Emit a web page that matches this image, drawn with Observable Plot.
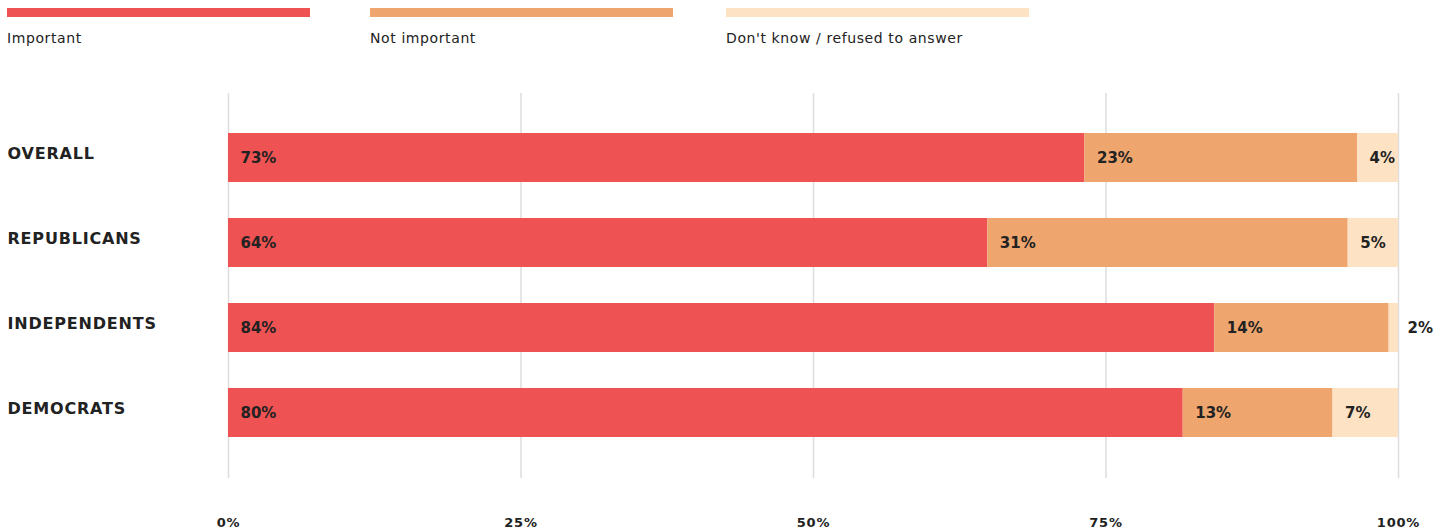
<!DOCTYPE html>
<html>
<head>
<meta charset="utf-8">
<script src="https://cdn.jsdelivr.net/npm/d3@7"></script>
<script src="https://cdn.jsdelivr.net/npm/@observablehq/plot@0.6"></script>
<style>
  html, body { margin: 0; padding: 0; background: #fff; }
  #legend { position: relative; height: 60px; width: 1449px; font-family: "DejaVu Sans", sans-serif; font-size: 14px; letter-spacing: 0.6px; color: #222; }
  .item { position: absolute; top: 8px; width: 303px; }
  .sw { height: 9px; width: 303px; }
  .lab { margin-top: 13px; }
  #chart svg { display: block; }
</style>
</head>
<body>
<div id="legend"></div>
<div id="chart"></div>
<script>
const categories = ["OVERALL", "REPUBLICANS", "INDEPENDENTS", "DEMOCRATS"];
const responses = ["Important", "Not important", "Don't know / refused to answer"];
const colors = ["#EF5252", "#EEA66E", "#FDE2C3"];
const important = [73.2, 64.9, 84.3, 81.6];
const notImportant = [23.3, 30.8, 14.9, 12.8];
const dontKnow = [3.5, 4.3, 0.8, 5.6];
const labelImportant = ["73%", "64%", "84%", "80%"];
const labelNotImportant = ["23%", "31%", "14%", "13%"];
const labelDontKnow = ["4%", "5%", "2%", "7%"];
const xTicks = [0, 25, 50, 75, 100];

const series = [important, notImportant, dontKnow];
const labels = [labelImportant, labelNotImportant, labelDontKnow];
const data = [];
categories.forEach((c, i) => {
  responses.forEach((r, j) => {
    data.push({category: c, response: r, value: series[j][i], label: labels[j][i]});
  });
});

// Legend
const legendLefts = [7, 370, 726];
const legend = document.getElementById("legend");
responses.forEach((r, j) => {
  const it = document.createElement("div");
  it.className = "item";
  it.style.left = legendLefts[j] + "px";
  const sw = document.createElement("div");
  sw.className = "sw";
  sw.style.background = colors[j];
  const lab = document.createElement("div");
  lab.className = "lab";
  lab.textContent = r;
  it.appendChild(sw);
  it.appendChild(lab);
  legend.appendChild(it);
});

const chart = Plot.plot({
  width: 1449,
  height: 471,
  marginLeft: 228,
  marginRight: 51,
  marginTop: 33,
  marginBottom: 53,
  style: {fontFamily: "DejaVu Sans, sans-serif", color: "#222", background: "#fff"},
  x: {domain: [0, 100]},
  y: {domain: categories, paddingInner: 0.42, paddingOuter: 0.45},
  color: {domain: responses, range: colors},
  marks: [
    Plot.ruleX(xTicks, {stroke: "#dddddd", strokeWidth: 1.5}),
    Plot.barX(data, {x: "value", y: "category", fill: "response"}),
    Plot.textX(data, Plot.stackX1({
      x: "value", y: "category",
      text: d => d.value >= 2 ? d.label : null,
      textAnchor: "start", dx: 12, ariaLabel: "value-label",
      fontWeight: "bold", fontSize: 15, fill: "#222"
    })),
    Plot.textX(data, Plot.stackX2({
      x: "value", y: "category",
      text: d => d.value < 2 ? d.label : null,
      textAnchor: "start", dx: 9, ariaLabel: "value-label",
      fontWeight: "bold", fontSize: 15, fill: "#222"
    })),
    Plot.axisX({ticks: xTicks, tickFormat: d => d + "%", tickSize: 0, tickPadding: 39, fontWeight: "bold", fontSize: 13, fill: "#222", label: null}),
    Plot.axisY({tickSize: 0, tickPadding: 221, textAnchor: "start", dy: -4, fontWeight: "bold", fontSize: 16, fill: "#222", label: null})
  ]
});
d3.select(chart).selectAll("g[aria-label='value-label']").attr("letter-spacing", 1.2);
d3.select(chart).selectAll("g[aria-label^='y-axis']").attr("letter-spacing", 0.8);
d3.select(chart).selectAll("g[aria-label^='x-axis']").attr("letter-spacing", 0.8);
document.getElementById("chart").appendChild(chart);
</script>
</body>
</html>
